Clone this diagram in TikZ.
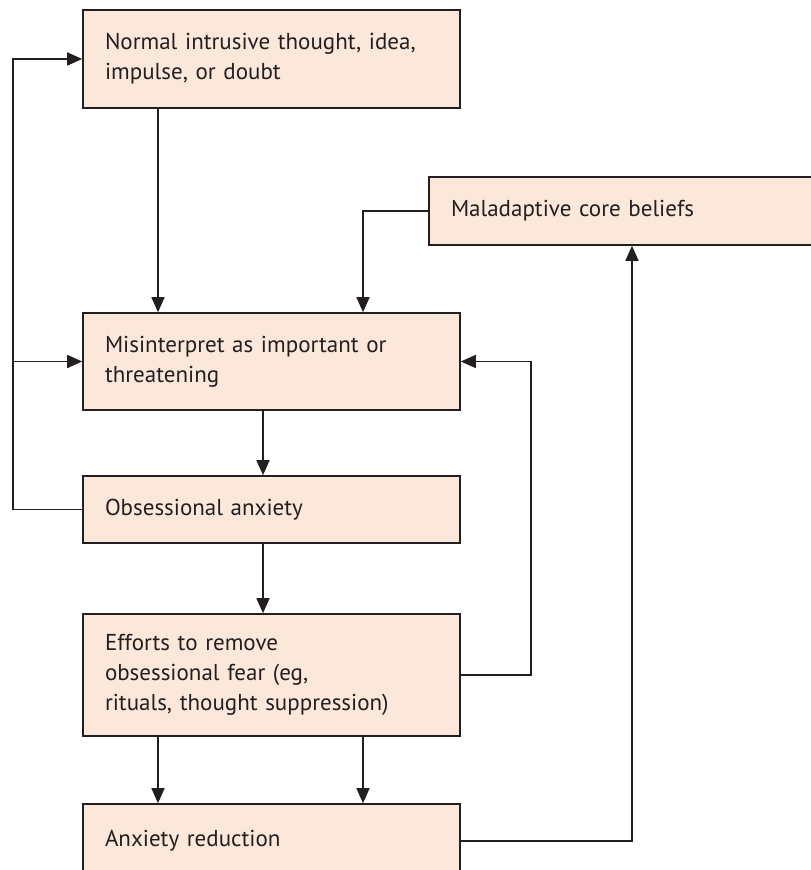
\documentclass[tikz,border=0pt]{standalone}
\usepackage{fontspec}
\setmainfont{PT Sans}
\usepackage{tikz}
\usetikzlibrary{arrows.meta,positioning}
\definecolor{peach}{RGB}{252,231,219}
\definecolor{ink}{RGB}{35,31,32}
\tikzset{box/.style={draw=ink,fill=peach,line width=1.6pt,text=ink,align=left,
    text width=333pt,inner xsep=22pt,inner ysep=0pt,font=\fontsize{23}{30}\selectfont},
  arr/.style={draw=ink,line width=1.6pt,-{Triangle[length=15pt,width=13pt]}}}
\begin{document}
\begin{tikzpicture}[x=1pt,y=-1pt]
  \useasboundingbox (0,0) rectangle (811,870);
  \clip (0,0) rectangle (811,870);
  % boxes
  \node[box,minimum height=98pt] (norm) at (271.5,59) {Normal intrusive thought, idea,\\impulse, or doubt};
  \node[box,minimum height=68pt,text width=358pt] (mal) at (630,211) {Maladaptive core beliefs};
  \node[box,minimum height=97pt] (mis) at (271.5,361.5) {Misinterpret as important or\\threatening};
  \node[box,minimum height=67pt] (obs) at (271.5,509.5) {Obsessional anxiety};
  \node[box,minimum height=122pt] (eff) at (271.5,675) {Efforts to remove\\obsessional fear (eg,\\rituals, thought suppression)};
  \node[box,minimum height=74pt] (red) at (271.5,841) {Anxiety reduction};
  % where the vertical lines run
  \coordinate (lft) at (158,0); \coordinate (mid) at (263,0); \coordinate (rgt) at (363,0);
  \coordinate (lx) at (13,0); \coordinate (rx) at (531,0); \coordinate (bx) at (632,0);
  \draw[arr] (norm.south -| lft) -- (mis.north -| lft);
  \draw[arr] (mal.west) -| (mis.north -| rgt);
  \draw[arr] (mis.south -| mid) -- (obs.north -| mid);
  \draw[arr] (obs.south -| mid) -- (eff.north -| mid);
  \foreach \c in {lft,rgt} { \draw[arr] (eff.south -| \c) -- (red.north -| \c); }
  \draw[arr] (eff.east) -- (eff.east -| rx) |- (mis.east);
  \draw[arr] (obs.west) -- (obs.west -| lx) |- (norm.west);
  \draw[arr] (lx |- mis.west) -- (mis.west);
  \draw[arr] (red.east) -| (mal.south -| bx);
\end{tikzpicture}
\end{document}
